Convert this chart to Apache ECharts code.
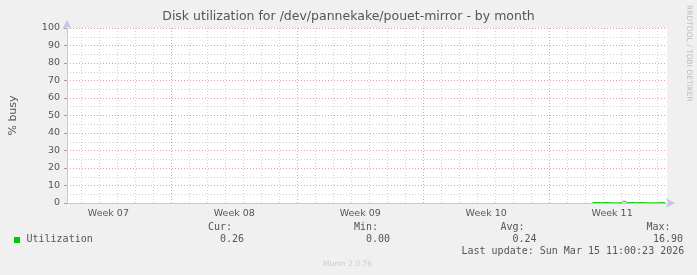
<!DOCTYPE html>
<html>
<head>
<meta charset="utf-8">
<script src="https://cdn.jsdelivr.net/npm/echarts@6/dist/echarts.min.js"></script>
<style>
html,body{margin:0;padding:0;background:#f0f0f0;}
#c{width:697px;height:275px;}
</style>
</head>
<body>
<div id="c"></div>
<script>
// x values are days relative to the Monday that starts Week 08
const weekLabels = ['Week 07', 'Week 08', 'Week 09', 'Week 10', 'Week 11'];
const weekCenters = [-3.5, 3.5, 10.5, 17.5, 24.5];
const weekLines = [0, 7, 14, 21];
const dayLines = [-5, -4, -3, -2, -1, 1, 2, 3, 4, 5, 6, 8, 9, 10, 11, 12, 13,
  15, 16, 17, 18, 19, 20, 22, 23, 24, 25, 26, 27];
const yTicks = [0, 10, 20, 30, 40, 50, 60, 70, 80, 90, 100];
const utilDays = [23.41, 23.55, 23.77, 23.9, 24.1, 24.28, 24.45, 24.7, 25.0, 25.05, 25.15,
  25.25, 25.4, 25.6, 25.75, 25.9, 26.0, 26.2, 26.35, 26.6, 26.9, 27.1, 27.15, 27.45];
const utilValues = [0.3, 0.3, 0.3, 0.1, 0.3, 0.3, 0.1, 0.1, 0.1, 0.5, 1.2,
  0.5, 0.1, 0.3, 0.3, 0.1, 0.4, 0.4, 0.2, 0.1, 0.1, 0.1, 0.3, 0.3];
const legendName = 'Utilization';
const statNames = ['Cur:', 'Min:', 'Avg:', 'Max:'];
const statValues = ['0.26', '0.00', '0.24', '16.90'];
const lastUpdate = 'Last update: Sun Mar 15 11:00:23 2026';

const chart = echarts.init(document.getElementById('c'), null, {renderer: 'canvas'});
const mono = 'DejaVu Sans Mono';
const sans = 'DejaVu Sans';
const txt = '#555555';

const mlDay = dayLines.map(d => ({xAxis: d, lineStyle: {color: '#d0d0d0', type: [1, 2], width: 1}}));
const mlWeek = weekLines.map(d => ({xAxis: d, lineStyle: {color: '#e0a0a0', type: [1, 2], width: 1}}));

const statX = [[208, 220], [354, 366], [500.5, 512.5], [646.5, 653]];
const graphics = [
  {type: 'text', left: 'center', top: 10, style: {text: 'Disk utilization for /dev/pannekake/pouet-mirror - by month', font: '12.5px ' + sans, fill: txt}},
  {type: 'text', x: 689, y: 5, rotation: -Math.PI / 2, style: {text: 'RRDTOOL / TOBI OETIKER', font: '7.5px ' + sans, fill: '#bdbdbd', align: 'left', verticalAlign: 'middle'}},
  {type: 'rect', shape: {x: 14, y: 237, width: 6, height: 6}, style: {fill: '#00cc00'}},
  {type: 'text', x: 26.5, y: 239.5, style: {text: legendName, font: '10px ' + mono, fill: txt, verticalAlign: 'middle'}},
  {type: 'text', x: 461.5, y: 251, style: {text: lastUpdate, font: '10px ' + mono, fill: txt, verticalAlign: 'middle'}},
  {type: 'text', x: 347.5, y: 264, style: {text: 'Munin 2.0.76', font: '7.5px ' + sans, fill: '#cccccc', align: 'center', verticalAlign: 'middle'}}
];
statNames.forEach((n, i) => {
  graphics.push({type: 'text', x: statX[i][0], y: 227.7, style: {text: n, font: '10px ' + mono, fill: txt, verticalAlign: 'middle'}});
  graphics.push({type: 'text', x: statX[i][1], y: 239.5, style: {text: statValues[i], font: '10px ' + mono, fill: txt, verticalAlign: 'middle'}});
});

chart.setOption({
  backgroundColor: '#f0f0f0',
  animation: false,
  grid: {left: 67, right: 30, top: 28, bottom: 72, show: true, backgroundColor: '#ffffff', borderWidth: 0},
  xAxis: {
    type: 'value', min: -5.8, max: 27.55,
    axisLine: {show: true, onZero: false, lineStyle: {color: '#c4c4ec', width: 1}, symbol: ['none', 'arrow'], symbolSize: [7, 9], symbolOffset: [0, 8]},
    axisTick: {show: false},
    splitLine: {show: false},
    axisLabel: {
      customValues: weekCenters,
      formatter: v => { const i = weekCenters.indexOf(v); return i >= 0 ? weekLabels[i] : ''; },
      color: txt, fontFamily: sans, fontSize: 9.5, margin: 6
    }
  },
  yAxis: {
    type: 'value', min: 0, max: 100, interval: 10,
    name: '% busy', nameLocation: 'middle', nameGap: 48, nameRotate: 90,
    nameTextStyle: {color: txt, fontFamily: sans, fontSize: 11},
    axisLine: {show: true, onZero: false, lineStyle: {color: '#c4c4ec', width: 1}, symbol: ['none', 'arrow'], symbolSize: [7, 9], symbolOffset: [0, 8]},
    axisTick: {show: true, length: 3, lineStyle: {color: '#a0a0a0'}},
    axisLabel: {color: txt, fontFamily: sans, fontSize: 9.5, margin: 7,
      customValues: yTicks},
    splitLine: {show: true, lineStyle: {color: '#e0a0a0', type: [1, 2], width: 1}},
    minorTick: {show: false, splitNumber: 2},
    minorSplitLine: {show: true, lineStyle: {color: '#d0d0d0', type: [1, 2], width: 1}}
  },
  graphic: graphics,
  series: [
    {
      type: 'line', data: [], silent: true,
      markLine: {silent: true, symbol: 'none', label: {show: false}, animation: false, data: mlDay.concat(mlWeek)}
    },
    {
      type: 'line', name: legendName,
      data: utilDays.map((d, i) => [d, utilValues[i]]),
      showSymbol: false, symbol: 'none',
      lineStyle: {color: '#00cc00', width: 1}, itemStyle: {color: '#00cc00'}, z: 5
    }
  ]
});
</script>
</body>
</html>
